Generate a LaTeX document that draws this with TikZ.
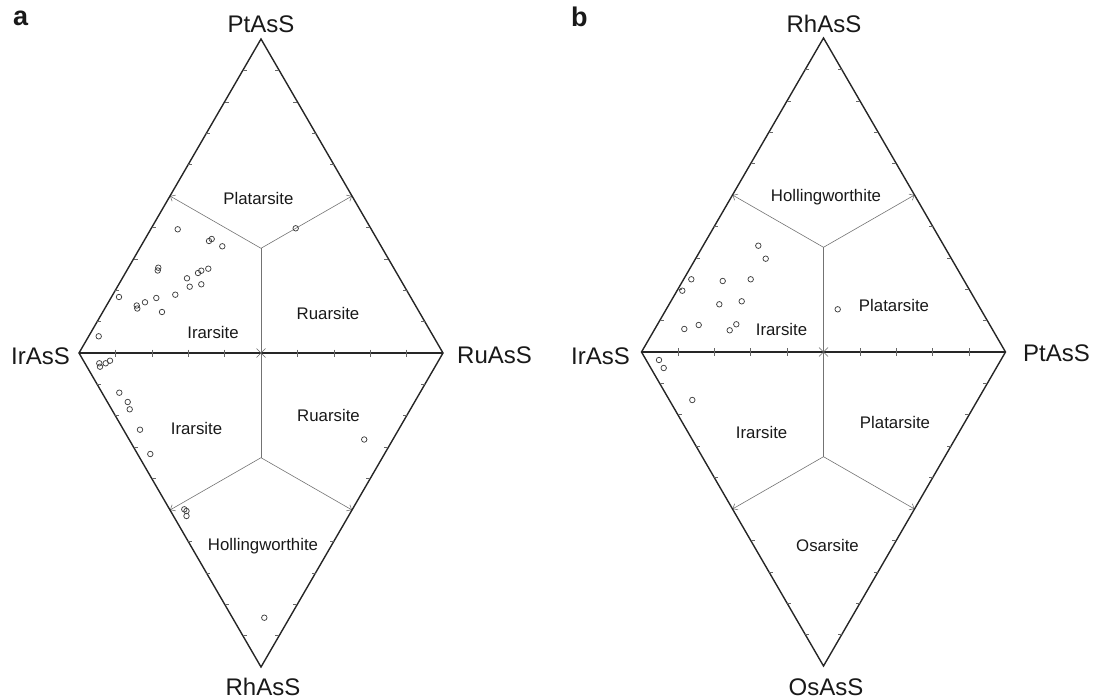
\documentclass[tikz,border=0pt]{standalone}
\usepackage{fontspec}
\setmainfont{Liberation Sans}
\usetikzlibrary{arrows.meta,calc}
\newcommand\ternarydiamond[3]{%
 \begin{scope}[shift={(#1,#2)}]
  \coordinate (#3L) at (-182,0);
  \coordinate (#3R) at (182,0);
  \coordinate (#3T) at (0,-314);
  \coordinate (#3B) at (0,314);
  \coordinate (#3C) at (0,0);
  \coordinate (#3cu) at (0,-104.7);
  \coordinate (#3cl) at (0,104.7);
  \coordinate (#3mul) at (-91,-157);
  \coordinate (#3mur) at (91,-157);
  \coordinate (#3mll) at (-91,157);
  \coordinate (#3mlr) at (91,157);
  \draw[bisector] (#3C) -- (#3cu);
  \draw[barb] (#3cu) -- (#3mul);
  \draw[barb] (#3cu) -- (#3mur);
  \draw[bisector] (#3C) -- (#3cl);
  \draw[barb] (#3cl) -- (#3mll);
  \draw[barb] (#3cl) -- (#3mlr);
  \draw[frame] (#3L) -- (#3T) -- (#3R) -- (#3B) -- cycle;
  \draw[axis] (#3L) -- (#3R);
  \draw[tick] (-4.5,-4.5) -- (4.5,4.5) (-4.5,4.5) -- (4.5,-4.5);
  \foreach \k in {1,2,3,4,6,7,8,9} {
   \draw[tick] ($(#3L)!\k/10!(#3T)$) -- ++(4,0);
   \draw[tick] ($(#3R)!\k/10!(#3T)$) -- ++(-4,0);
   \draw[tick] ($(#3L)!\k/10!(#3B)$) -- ++(4,0);
   \draw[tick] ($(#3R)!\k/10!(#3B)$) -- ++(-4,0);
   \draw[tick] ($(#3L)!\k/10!(#3R)$) ++(0,-3.5) -- ++(0,7);
  }
 \end{scope}}
\begin{document}
\begin{tikzpicture}[x=1pt,y=-1pt,
  frame/.style={line width=1.4pt, draw=black!85, line join=miter},
  axis/.style={line width=1.9pt, draw=black!85},
  bisector/.style={line width=0.6pt, draw=black!55},
  barb/.style={bisector, -{Straight Barb[length=4pt,width=7pt,line width=0.6pt]}},
  tick/.style={line width=0.6pt, draw=black!60},
  pt/.style={circle, draw=black!75, line width=0.75pt, minimum size=5.5pt, inner sep=0pt},
  region/.style={anchor=base, inner sep=0pt, font=\fontsize{16.8}{18}\selectfont, text=black!90},
  vertex/.style={inner sep=0pt, font=\fontsize{24}{26}\selectfont, text=black!90},
  panel/.style={anchor=base west, inner sep=0pt, font=\fontsize{27}{29}\selectfont\bfseries, text=black!90}]
\useasboundingbox (0,0) rectangle (1097,700);

% ---------- panel a ----------
\ternarydiamond{261}{353}{a}
\node[panel] (pa) at (13,26) {a};
\node[vertex, anchor=base] (aPt) at (261,33) {PtAsS};
\node[vertex, anchor=base east] (aIr) at (70,364) {IrAsS};
\node[vertex, anchor=base west] (aRu) at (457,363) {RuAsS};
\node[vertex, anchor=base] (aRh) at (263,695) {RhAsS};

\node[region] (aPlat) at (258.4,204.7) {Platarsite};
\node[region] (aIrU) at (213,338.5) {Irarsite};
\node[region] (aRuU) at (328,319.3) {Ruarsite};
\node[region] (aIrL) at (196.5,434.5) {Irarsite};
\node[region] (aRuL) at (328.5,421) {Ruarsite};
\node[region] (aHol) at (263,550.5) {Hollingworthite};

\foreach \p [count=\i] in {(177.7,229.3),(209,241),(211.7,239),(222.3,246.3),(158.3,267.7),(157.7,270.5),(187,278.3),(198,273),(201.3,270.7),(208.3,268.7),(189.7,286.7),(201.3,284.3),(175.3,294.7),(119,297),(136.7,305.5),(137.3,308.5),(145,302.3),(156.3,298),(162,312),(98.7,336.3),(295.7,228.3),(99.3,363.3),(100,366.7),(105.7,363.3),(110,360.7),(119.3,392.7),(127.7,402),(129.7,409.3),(140,429.7),(150.3,454),(184.3,509.3),(186.5,511),(186.5,516),(364.2,439.5),(264.3,617.7)}
  \node[pt] (da\i) at \p {};

% ---------- panel b ----------
\ternarydiamond{823.5}{352}{b}
\node[panel] (pb) at (571,27) {b};
\node[vertex, anchor=base] (bRh) at (824,33) {RhAsS};
\node[vertex, anchor=base east] (bIr) at (630,364) {IrAsS};
\node[vertex, anchor=base west] (bPt) at (1023,361) {PtAsS};
\node[vertex, anchor=base] (bOs) at (826,695) {OsAsS};

\node[region] (bHol) at (826,202) {Hollingworthite};
\node[region] (bIrU) at (781.5,335) {Irarsite};
\node[region] (bPlU) at (894,312) {Platarsite};
\node[region] (bIrL) at (761.6,438.7) {Irarsite};
\node[region] (bPlL) at (895,428) {Platarsite};
\node[region] (bOsa) at (827.5,551) {Osarsite};

\foreach \p [count=\i] in {(758.3,245.7),(765.7,258.7),(691.3,279.3),(722.7,281),(750.7,279.3),(682.3,290.7),(719.3,304.3),(741.7,301.3),(684.3,329),(698.7,325),(729.7,330.3),(736.3,324.3),(837.7,309.3),(659,360),(663.7,368),(692.3,400)}
  \node[pt] (db\i) at \p {};
\end{tikzpicture}
\end{document}
